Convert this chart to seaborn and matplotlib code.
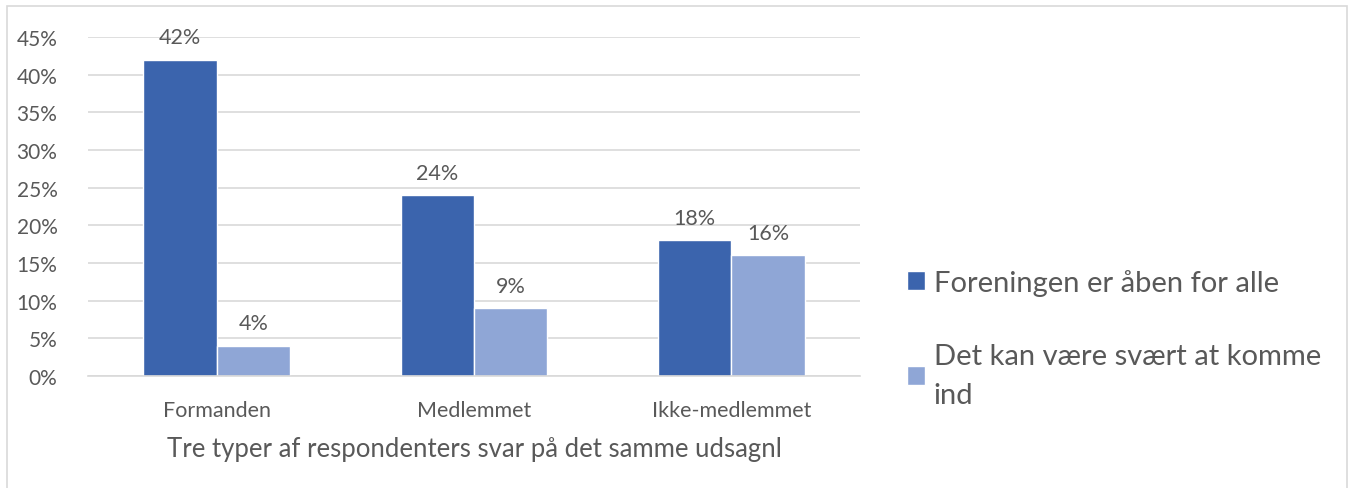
import numpy as np
import pandas as pd
import seaborn as sns
import matplotlib.pyplot as plt
from matplotlib.patches import Rectangle

groups = ["Formanden", "Medlemmet", "Ikke-medlemmet"]
series = ["Foreningen er åben for alle", "Det kan være svært at komme ind"]
open_for_all = [42, 24, 18]
hard_to_enter = [4, 9, 16]

df = pd.DataFrame({
    "gruppe": groups * 2,
    "serie": [series[0]] * 3 + [series[1]] * 3,
    "pct": open_for_all + hard_to_enter,
})

sns.set_style("white")
plt.rcParams['font.family'] = ['Lato', 'DejaVu Sans']
grey = "#595959"

fig = plt.figure(figsize=(13.52, 4.89), dpi=100)
ax = fig.add_axes([0.0651, 0.229, 0.5709, 0.6933])

sns.barplot(data=df, x="gruppe", y="pct", hue="serie", hue_order=series,
            palette=["#3B64AD", "#8FA6D6"], width=0.57, ax=ax,
            saturation=1, legend=True)

for c in ax.containers:
    ax.bar_label(c, fmt="%d%%", padding=9, fontsize=15.5, color=grey)

ax.set_ylim(0, 45)
ax.set_yticks(np.arange(0, 46, 5))
ax.set_yticklabels([f"{v}%" for v in range(0, 46, 5)], fontsize=15, color=grey)
ax.tick_params(axis="x", labelsize=15.5, labelcolor=grey, pad=17, length=0)
ax.tick_params(axis="y", length=0, pad=22)
ax.yaxis.grid(True, color="#D9D9D9", linewidth=1.2)
ax.set_axisbelow(True)
for s in ["top", "right", "left"]:
    ax.spines[s].set_visible(False)
ax.spines["bottom"].set_color("#D9D9D9")
ax.spines["bottom"].set_linewidth(1.2)
ax.set_ylabel("")
ax.set_xlabel("Tre typer af respondenters svar på det samme udsagnl",
              fontsize=18.5, color=grey, labelpad=12)

handles, labels = ax.get_legend_handles_labels()
labels = ["Foreningen er åben for alle", "Det kan være svært at komme\nind"]
leg = ax.legend(handles, labels, loc="center left", bbox_to_anchor=(1.027, 0.11),
                frameon=False, fontsize=21, labelcolor=grey, handlelength=0.62,
                handleheight=0.62, handletextpad=0.3, labelspacing=1.6)
for t in leg.get_texts():
    t.set_linespacing(1.65)

fig.patches.append(Rectangle((7 / 1352, -0.01), 1340 / 1352, 1 - 7 / 489 + 0.01,
                             transform=fig.transFigure, fill=False,
                             edgecolor="#D9D9D9", linewidth=1.2))

fig.savefig("out.png", dpi=100)
